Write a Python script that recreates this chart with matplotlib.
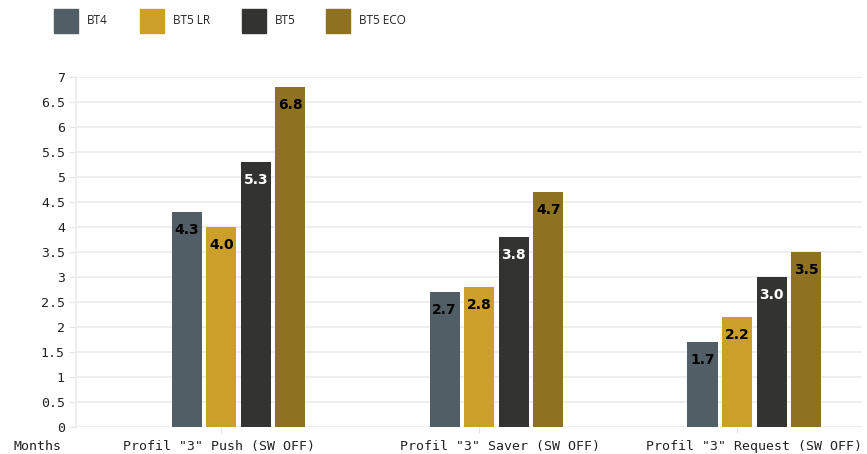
import numpy as np
import matplotlib
matplotlib.use("Agg")
import matplotlib.pyplot as plt
from matplotlib.patches import Rectangle

categories = ['Profil "3" Push (SW OFF)', 'Profil "3" Saver (SW OFF)', 'Profil "3" Request (SW OFF)']
series = ["BT4", "BT5 LR", "BT5", "BT5 ECO"]
values = {
    "BT4": [4.3, 2.7, 1.7],
    "BT5 LR": [4.0, 2.8, 2.2],
    "BT5": [5.3, 3.8, 3.0],
    "BT5 ECO": [6.8, 4.7, 3.5],
}
colors = ["#525e66", "#cc9f2a", "#333331", "#8f7122"]
label_colors = ["black", "black", "white", "black"]
yticks = [0, 0.5, 1, 1.5, 2, 2.5, 3, 3.5, 4, 4.5, 5, 5.5, 6, 6.5, 7]

fig = plt.figure(figsize=(8.67, 4.54), dpi=100)
ax = fig.add_axes([76 / 867, 27 / 454, 786 / 867, 350 / 454])

x = np.arange(len(categories))
step = 0.134
width = 0.117
for i, s in enumerate(series):
    pos = x + (i - 1.5) * step
    bars = ax.bar(pos, values[s], width=width, color=colors[i], zorder=3)
    for b, v in zip(bars, values[s]):
        ax.annotate(f"{v:.1f}", (b.get_x() + b.get_width() / 2, v),
                    xytext=(0, -13), textcoords="offset points",
                    ha="center", va="center", fontsize=10, fontweight="bold",
                    color=label_colors[i], zorder=4)

ax.set_xlim(-0.63, 2.417)
ax.set_ylim(0, 7)
ax.set_yticks(yticks)
ax.set_yticklabels([f"{t:g}" for t in yticks], family="DejaVu Sans Mono", fontsize=9.5, color="#222222")
ax.tick_params(axis="y", length=5, color="#e5e5e5", pad=3)
ax.set_xticks(x - step / 2)
ax.set_xticklabels([])
ax.tick_params(axis="x", length=4, color="#e5e5e5")
ax.grid(axis="y", color="#ebebeb", linewidth=1.2, zorder=0)
for sp in ["top", "right", "bottom"]:
    ax.spines[sp].set_visible(False)
ax.spines["left"].set_color("#ebebeb")
ax.spines["left"].set_linewidth(1.2)

# category labels, placed like the original (not exactly under the ticks)
label_x = [-0.076, 1.013, 2.0]
for lx, c in zip(label_x, categories):
    ax.text(lx, -0.39, c, ha="center", va="center", family="DejaVu Sans Mono",
            fontsize=9.5, color="#222222", clip_on=False)
fig.text(37 / 867, 1 - 446 / 454, "Months", ha="center", va="center",
         family="DejaVu Sans Mono", fontsize=9.5, color="#222222")

# legend
leg_x = [54, 140, 242, 326]
for lx, s, c in zip(leg_x, series, colors):
    fig.patches.append(Rectangle((lx / 867, 1 - 33 / 454), 24 / 867, 24 / 454,
                                 transform=fig.transFigure, color=c))
    fig.text((lx + 33) / 867, 1 - 21 / 454, s, ha="left", va="center",
             family="Open Sans", fontsize=8.5, color="#222222")

fig.savefig("out.png", dpi=100)
